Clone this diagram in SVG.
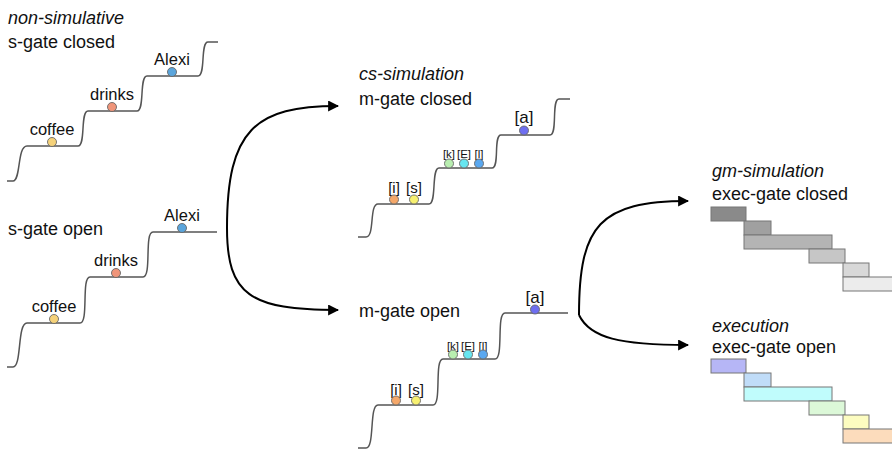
<svg xmlns="http://www.w3.org/2000/svg" width="892" height="450" viewBox="0 0 892 450">
<defs>
<marker id="ah" viewBox="0 0 10 10" refX="9" refY="5" markerWidth="5.5" markerHeight="5.5" orient="auto" markerUnits="strokeWidth">
<path d="M0,0 L10,5 L0,10 z" fill="#000"/>
</marker>
<style>
.t{font-family:"Liberation Sans",Arial,sans-serif;font-size:18px;fill:#111}
.ti{font-family:"Liberation Sans",Arial,sans-serif;font-size:18px;font-style:italic;fill:#111}
.w{font-family:"Liberation Sans",Arial,sans-serif;font-size:16.5px;fill:#111;text-anchor:middle}
.b1{font-family:"Liberation Sans",Arial,sans-serif;font-size:15px;fill:#111;text-anchor:middle}
.b2{font-family:"Liberation Sans",Arial,sans-serif;font-size:11.5px;fill:#111;text-anchor:middle}
.b3{font-family:"Liberation Sans",Arial,sans-serif;font-size:17px;fill:#111;text-anchor:middle}
.st{fill:none;stroke:#555;stroke-width:1.5}
.c{stroke:#666;stroke-width:0.9}
.bar{stroke:#777;stroke-width:1}
.arr{fill:none;stroke:#000;stroke-width:2;marker-end:url(#ah)}
</style>
</defs>

<g id="non-simulative-closed">
<text class="ti" x="8" y="24">non-simulative</text>
<text class="t" x="8" y="48">s-gate closed</text>
<path class="st" d="M7,181 H13 C21,181 17,146 27,146 H78 C86,146 80,111 88,111 H137 C145,111 139,76 147,76 H198 C206,76 200,42 208,42 H218"/>
<text class="w" x="52" y="135">coffee</text>
<circle class="c" cx="52" cy="142" r="4.5" fill="#f5d27a"/>
<text class="w" x="112" y="100">drinks</text>
<circle class="c" cx="112" cy="107" r="4.5" fill="#f0957a"/>
<text class="w" x="172" y="65">Alexi</text>
<circle class="c" cx="172" cy="72" r="4.5" fill="#5aa5dc"/>
</g>

<g id="s-gate-open">
<text class="t" x="8" y="235">s-gate open</text>
<path class="st" d="M7,367 H13 C22,367 17,323 27,323 H80 C89,323 81,277 90,277 H143 C152,277 144,232 153,232 H217"/>
<text class="w" x="54" y="312">coffee</text>
<circle class="c" cx="54" cy="319" r="4.5" fill="#f5d27a"/>
<text class="w" x="116" y="266">drinks</text>
<circle class="c" cx="116" cy="273" r="4.5" fill="#f0957a"/>
<text class="w" x="182" y="221">Alexi</text>
<circle class="c" cx="182" cy="228" r="4.5" fill="#5aa5dc"/>
</g>

<g id="cs-simulation-closed">
<text class="ti" x="359" y="80">cs-simulation</text>
<text class="t" x="359" y="105">m-gate closed</text>
<path class="st" d="M358,237 H366 C375,237 369,204 378,204 H429 C437,204 431,168 439,168 H492 C500,168 493,135 501,135 H550 C558,135 551,99 559,99 H570"/>
<text class="b1" x="394" y="193">[i]</text>
<circle class="c" cx="394" cy="199.5" r="4.5" fill="#f5a86a"/>
<text class="b1" x="414" y="193">[s]</text>
<circle class="c" cx="414" cy="199.5" r="4.5" fill="#f7f070"/>
<text class="b2" x="449" y="158">[k]</text>
<circle class="c" cx="449" cy="163.5" r="4.5" fill="#b8eeb0"/>
<text class="b2" x="464" y="158">[E]</text>
<circle class="c" cx="464" cy="163.5" r="4.5" fill="#66e6f0"/>
<text class="b2" x="479" y="158">[l]</text>
<circle class="c" cx="479" cy="163.5" r="4.5" fill="#5aa8f0"/>
<text class="b3" x="524" y="123">[a]</text>
<circle class="c" cx="524" cy="130.5" r="4.5" fill="#6e6ef0"/>
</g>

<g id="m-gate-open">
<text class="t" x="359" y="317">m-gate open</text>
<path class="st" d="M358,448 H366 C375,448 369,405 378,405 H433 C442,405 434,359 443,359 H495 C504,359 496,313 505,313 H568"/>
<text class="b1" x="396" y="395">[i]</text>
<circle class="c" cx="396" cy="400.5" r="4.5" fill="#f5a86a"/>
<text class="b1" x="416" y="395">[s]</text>
<circle class="c" cx="416" cy="400.5" r="4.5" fill="#f7f070"/>
<text class="b2" x="453" y="350">[k]</text>
<circle class="c" cx="453" cy="354.5" r="4.5" fill="#b8eeb0"/>
<text class="b2" x="468" y="350">[E]</text>
<circle class="c" cx="468" cy="354.5" r="4.5" fill="#66e6f0"/>
<text class="b2" x="483" y="350">[l]</text>
<circle class="c" cx="483" cy="354.5" r="4.5" fill="#5aa8f0"/>
<text class="b3" x="535" y="303">[a]</text>
<circle class="c" cx="535" cy="309.5" r="4.5" fill="#6e6ef0"/>
</g>

<g id="gm-simulation">
<text class="ti" x="712" y="177">gm-simulation</text>
<text class="t" x="712" y="200">exec-gate closed</text>
<rect class="bar" x="711" y="207" width="35" height="14" fill="#8a8a8a"/>
<rect class="bar" x="744" y="221" width="27" height="14" fill="#a0a0a0"/>
<rect class="bar" x="744" y="235" width="88" height="14" fill="#b4b4b4"/>
<rect class="bar" x="809" y="249" width="36" height="14" fill="#c6c6c6"/>
<rect class="bar" x="843" y="263" width="26" height="14" fill="#d8d8d8"/>
<rect class="bar" x="843" y="277" width="52" height="14" fill="#ececec"/>
</g>

<g id="execution">
<text class="ti" x="712" y="332">execution</text>
<text class="t" x="712" y="353">exec-gate open</text>
<rect class="bar" x="711" y="359" width="35" height="14" fill="#b6b6f6"/>
<rect class="bar" x="744" y="373" width="27" height="14" fill="#c0dcf8"/>
<rect class="bar" x="744" y="387" width="88" height="14" fill="#c0fcfc"/>
<rect class="bar" x="809" y="401" width="36" height="14" fill="#dcf8d8"/>
<rect class="bar" x="843" y="415" width="26" height="14" fill="#fcfcc0"/>
<rect class="bar" x="843" y="429" width="52" height="14" fill="#fcdcbc"/>
</g>

<g id="connectors">
<path class="arr" d="M227,228 C227,130 255,106 338,106"/>
<path class="arr" d="M227,228 C227,295 250,310 338,310"/>
<path class="arr" d="M579,315 C579,225 600,201 688,201"/>
<path class="arr" d="M579,315 C590,338 620,345 688,345"/>
</g>
</svg>
